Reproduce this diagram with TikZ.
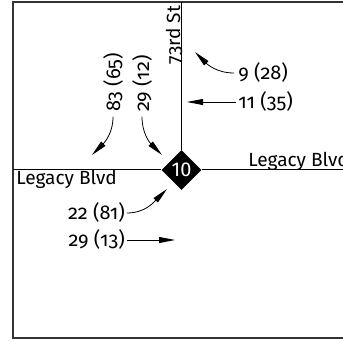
\documentclass[tikz,border=0pt]{standalone}
\usepackage{fontspec}
\setmainfont{Fira Sans}[Numbers=OldStyle]
\newfontfamily\signfont{Fira Sans}[Numbers=Lining]
\usetikzlibrary{shapes.geometric,arrows.meta}
\begin{document}
\begin{tikzpicture}[x=0.75pt,y=0.75pt,
  road/.style={line width=0.75pt},
  frameline/.style={line width=1pt,draw=black!80},
  lbl/.style={inner sep=0pt,font=\fontsize{14.3pt}{16pt}\selectfont},
  vol/.style={inner sep=0pt,font=\fontsize{15pt}{17pt}\selectfont},
  flow/.style={line width=0.6pt,-{Triangle[length=12pt,width=4.5pt]}},
  signbox/.style={diamond,fill=black,inner sep=0pt,minimum size=30pt,
    text=white,font=\signfont\fontsize{15pt}{17pt}\selectfont}]
  \useasboundingbox (0,0) rectangle (343,342);
  \clip (0,0) rectangle (343,342);

  % frame, open to the right
  \draw[frameline] (360,340) -- (13,340) -- (13,4) -- (360,4);

  % intersection sign
  \node[signbox] (sig) at (181.5,172) {10};

  % streets
  \coordinate (n) at (181.5,340);
  \coordinate (w) at (13,172);
  \coordinate (e) at (360,172);
  \draw[road] (n) -- (sig.north);
  \draw[road] (w) -- (sig.west);
  \draw[road] (sig.east) -- (e);

  % street names
  \node[lbl,rotate=90,anchor=base] (st73) at (180,307) {73rd St};
  \node[lbl,anchor=base west] (legw) at (16,157) {Legacy Blvd};
  \node[lbl,anchor=base west] (lege) at (248,175.3) {Legacy Blvd};

  % turning volumes
  \node[vol,rotate=90,anchor=west] (v8365) at (113,230) {83 (65)};
  \node[vol,rotate=90,anchor=west] (v2912) at (142,230) {29 (12)};
  \node[vol,anchor=west] (v928) at (238,269) {9 (28)};
  \node[vol,anchor=west] (v1135) at (238,240) {11 (35)};
  \node[vol,anchor=east] (v2281) at (125,129) {22 (81)};
  \node[vol,anchor=east] (v2913) at (125,102) {29 (13)};

  \coordinate (t8365) at (92,187);
  \coordinate (t2912) at (162,187);
  \coordinate (t928) at (195,290);
  \coordinate (t1135) at (187,240);
  \coordinate (t2281) at (167,153);
  \coordinate (t2913) at (175,102);

  \draw[flow] ([yshift=-3.5pt]v8365.west) to[out=-90,in=45] (t8365);
  \draw[flow] ([yshift=-3.5pt]v2912.west) to[out=-90,in=135] (t2912);
  \draw[flow] ([xshift=-3pt]v928.west) to[out=180,in=-45] (t928);
  \draw[flow] ([xshift=-1.5pt]v1135.west) -- (t1135);
  \draw[flow] ([xshift=1.5pt]v2281.east) to[out=0,in=225] (t2281);
  \draw[flow] ([xshift=1.5pt]v2913.east) -- (t2913);
\end{tikzpicture}
\end{document}
